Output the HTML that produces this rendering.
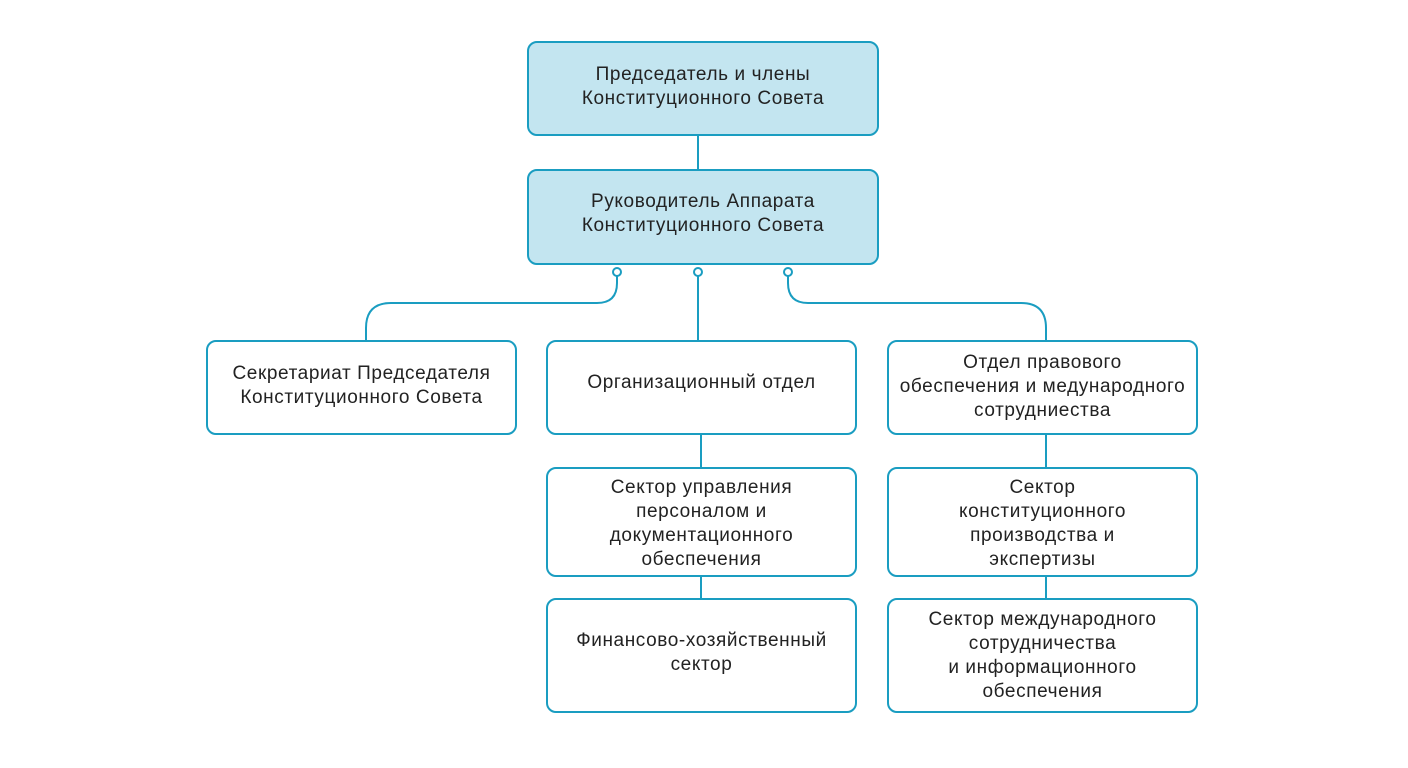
<!DOCTYPE html>
<html><head><meta charset="utf-8"><style>
body{margin:0;width:1408px;height:768px;background:#fff;position:relative;overflow:hidden;font-family:"Liberation Sans",sans-serif}
.b{position:absolute;box-sizing:border-box;border:2px solid #1a9dc1;border-radius:10px;background:#fff;display:flex;align-items:center;justify-content:center;text-align:center;font-size:19px;letter-spacing:0.6px;line-height:24px;color:#222;white-space:nowrap}
.f{background:#c3e5f0}
svg{position:absolute;left:0;top:0}
</style></head><body>
<svg width="1408" height="768" fill="none" stroke="#1a9dc1" stroke-width="2">
<line x1="698" y1="136" x2="698" y2="169"/>
<line x1="698" y1="276" x2="698" y2="340"/>
<path d="M617 276 V283 Q617 303 597 303 H391 Q366 303 366 328 V340"/>
<path d="M788 276 V283 Q788 303 808 303 H1021 Q1046 303 1046 328 V340"/>
<line x1="701" y1="435" x2="701" y2="467"/>
<line x1="701" y1="577" x2="701" y2="598"/>
<line x1="1046" y1="435" x2="1046" y2="467"/>
<line x1="1046" y1="577" x2="1046" y2="598"/>
<circle cx="617" cy="272" r="4" fill="#fff"/>
<circle cx="698" cy="272" r="4" fill="#fff"/>
<circle cx="788" cy="272" r="4" fill="#fff"/>
</svg>
<div class="b f" style="left:527px;top:41px;width:352px;height:95px;padding-bottom:4px">Председатель и члены<br>Конституционного Совета</div>
<div class="b f" style="left:527px;top:169px;width:352px;height:96px;padding-bottom:6px">Руководитель Аппарата<br>Конституционного Совета</div>
<div class="b" style="left:206px;top:340px;width:311px;height:95px;padding-bottom:4px">Секретариат Председателя<br>Конституционного Совета</div>
<div class="b" style="left:546px;top:340px;width:311px;height:95px;padding-bottom:10px">Организационный отдел</div>
<div class="b" style="left:887px;top:340px;width:311px;height:95px;padding-bottom:2px">Отдел правового<br>обеспечения и медународного<br>сотрудниества</div>
<div class="b" style="left:546px;top:467px;width:311px;height:110px;padding-top:4px">Сектор управления<br>персоналом и<br>документационного<br>обеспечения</div>
<div class="b" style="left:887px;top:467px;width:311px;height:110px;padding-top:4px">Сектор<br>конституционного<br>производства и<br>экспертизы</div>
<div class="b" style="left:546px;top:598px;width:311px;height:115px;padding-bottom:6px">Финансово-хозяйственный<br>сектор</div>
<div class="b" style="left:887px;top:598px;width:311px;height:115px">Сектор международного<br>сотрудничества<br>и информационного<br>обеспечения</div>
</body></html>
